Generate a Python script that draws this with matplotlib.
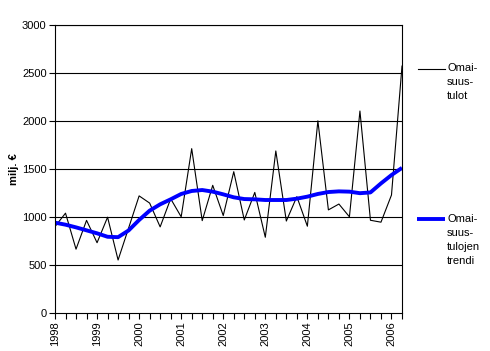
import matplotlib
matplotlib.use("Agg")
import matplotlib.pyplot as plt
from matplotlib.lines import Line2D

plt.rcParams['font.family'] = ['Liberation Sans', 'DejaVu Sans']

years = ['1998', '1999', '2000', '2001', '2002', '2003', '2004', '2005', '2006']
tulot = [900, 1040, 665, 965, 732, 998, 552, 885, 1220, 1145,
         897, 1190, 1002, 1712, 962, 1330, 1015, 1472, 969, 1256,
         789, 1688, 958, 1212, 904, 2002, 1074, 1135, 1002, 2104,
         966, 946, 1229, 2572]
trendi = [941, 920, 892, 861, 830, 794, 790, 860, 969, 1066,
          1132, 1184, 1240, 1271, 1281, 1264, 1236, 1205, 1187, 1184,
          1177, 1177, 1177, 1191, 1212, 1240, 1260, 1267, 1264, 1248,
          1256, 1350, 1437, 1512]
yticks = [0, 500, 1000, 1500, 2000, 2500, 3000]

W, H = 490, 351
fig = plt.figure(figsize=(W/100, H/100), dpi=100)
L, R, T, B = 55, 402, 25, 313
ax = fig.add_axes([L/W, 1 - B/H, (R - L)/W, (B - T)/H])

x = list(range(len(tulot)))
ax.plot(x, tulot, color='black', lw=0.8)
ax.plot(x, trendi, color='#0000ff', lw=2.8, solid_capstyle='butt')

ax.set_xlim(0, len(tulot) - 1)
ax.set_ylim(0, 3000)
ax.set_yticks(yticks)
ax.set_yticklabels([str(v) for v in yticks], fontsize=8)
ax.set_xticks(x)
ax.set_xticklabels([years[i // 4] if i % 4 == 0 else '' for i in x],
                   rotation=90, fontsize=8)
ax.tick_params(axis='both', direction='out', length=4, width=0.8, color='black', pad=2)
for v in yticks[1:]:
    ax.axhline(v, color='black', lw=0.8, zorder=0)
for s in ax.spines.values():
    s.set_linewidth(0.8)
ax.set_ylabel('milj. €', fontsize=8, fontweight='bold', labelpad=2)

def fx(px):
    return px / W

def fy(py):
    return 1 - py / H

fig.add_artist(Line2D([fx(418), fx(445)], [fy(69), fy(69)], color='black', lw=0.8))
fig.text(fx(447), fy(63), 'Omai-\nsuus-\ntulot', fontsize=8, va='top', ha='left', linespacing=1.5)
fig.add_artist(Line2D([fx(417), fx(445)], [fy(219), fy(219)], color='#0000ff', lw=2.8, solid_capstyle='butt'))
fig.text(fx(447), fy(214), 'Omai-\nsuus-\ntulojen\ntrendi', fontsize=8, va='top', ha='left', linespacing=1.5)

fig.savefig('out.png', dpi=100)
